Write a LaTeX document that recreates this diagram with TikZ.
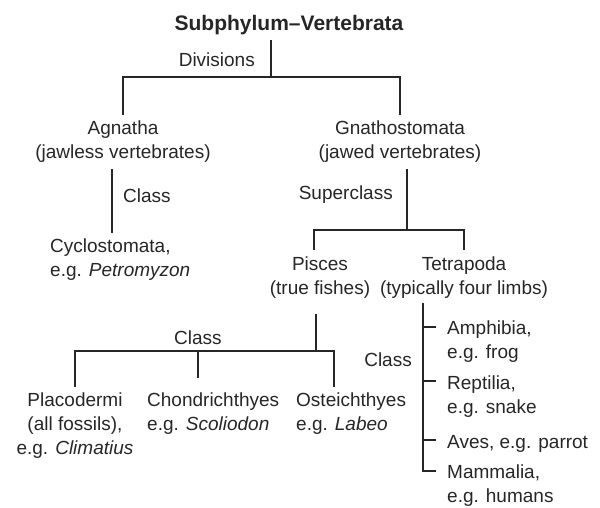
\documentclass[tikz,border=0pt]{standalone}
\usepackage{fontspec}
\setmainfont{Liberation Sans}
\usepackage{tikz}

\begin{document}
\begin{tikzpicture}[x=1pt,y=-1pt,
    every node/.style={font=\fontsize{19}{24}\selectfont, text=black!85, inner sep=0pt},
    taxon/.style={align=center, inner ysep=6pt},
    taxonl/.style={align=left, inner ysep=6pt, anchor=west},
    rank/.style={anchor=east},
    link/.style={draw=black!85, line width=1.1pt}]
    \useasboundingbox (0,0) rectangle (600,507);
    % title and the two divisions
    \node[font=\fontsize{21}{24}\selectfont\bfseries, inner ysep=5pt] (title) at (289,25) {Subphylum–Vertebrata};
    \node[rank] (divl) at (255,60) {Divisions};
    \node[taxon] (agnatha) at (123,142) {Agnatha\\(jawless vertebrates)};
    \node[taxon] (gnatho) at (400,142) {Gnathostomata\\(jawed vertebrates)};
    \coordinate (divJ) at (271,77);
    \draw[link] (title.south -| divJ) -- (divJ);
    \draw[link] (agnatha.north) |- (divJ) -| (gnatho.north);
    % jawless branch
    \node[rank, anchor=west] (clsA) at (123,196) {Class};
    \node[taxonl] (cyclo) at (50,260) {Cyclostomata,\\e.g. \textit{Petromyzon}};
    \draw[link] ([xshift=-11pt]agnatha.south) -- ([xshift=-11pt]agnatha.south |- cyclo.north);
    % jawed branch
    \node[rank] (supl) at (393,195) {Superclass};
    \node[taxon] (pisces) at (320,277.5) {Pisces\\(true fishes)};
    \node[taxon] (tetra) at (464,277.5) {Tetrapoda\\(typically four limbs)};
    \coordinate (supJ) at (407,230);
    \draw[link] ([xshift=7pt]gnatho.south) -- (supJ);
    \draw[link] ([xshift=-6pt]pisces.north) |- (supJ) -| (tetra.north);
    % fishes
    \node (clsP) at (198,338) {Class};
    \node[taxon] (placo) at (75,426) {Placodermi\\(all fossils),\\e.g. \textit{Climatius}};
    \node[taxonl] (chondri) at (147,414) {Chondrichthyes\\e.g. \textit{Scoliodon}};
    \node[taxonl] (osteo) at (296,414) {Osteichthyes\\e.g. \textit{Labeo}};
    \coordinate (clsJ) at (316,351);
    \draw[link] ([xshift=-4pt,yshift=-9pt]pisces.south) -- (clsJ);
    \draw[link] (placo.north) |- (clsJ) -| ([xshift=38pt]osteo.north west);
    \draw[link] ([xshift=51pt,yshift=9pt]chondri.north west) -- ([xshift=51pt]chondri.north west |- clsJ);
    % four-limbed classes
    \node[rank] (clsT) at (412,360) {Class};
    \node[taxonl] (amphi) at (447,342) {Amphibia,\\e.g. frog};
    \node[taxonl] (repti) at (447,397) {Reptilia,\\e.g. snake};
    \node[taxonl] (aves) at (447,444) {Aves, e.g. parrot};
    \node[taxonl] (mamma) at (447,486) {Mammalia,\\e.g. humans};
    \coordinate (tetB) at ([xshift=-41pt,yshift=2pt]tetra.south);
    \draw[link] (tetB) |- ([xshift=-11pt,yshift=15pt]mamma.west);
    \foreach \n/\dy in {amphi/15,repti/16,aves/4}
        \draw[link] ([xshift=-11pt,yshift=\dy pt]\n.west) -- ++(-13pt,0);
\end{tikzpicture}
\end{document}
